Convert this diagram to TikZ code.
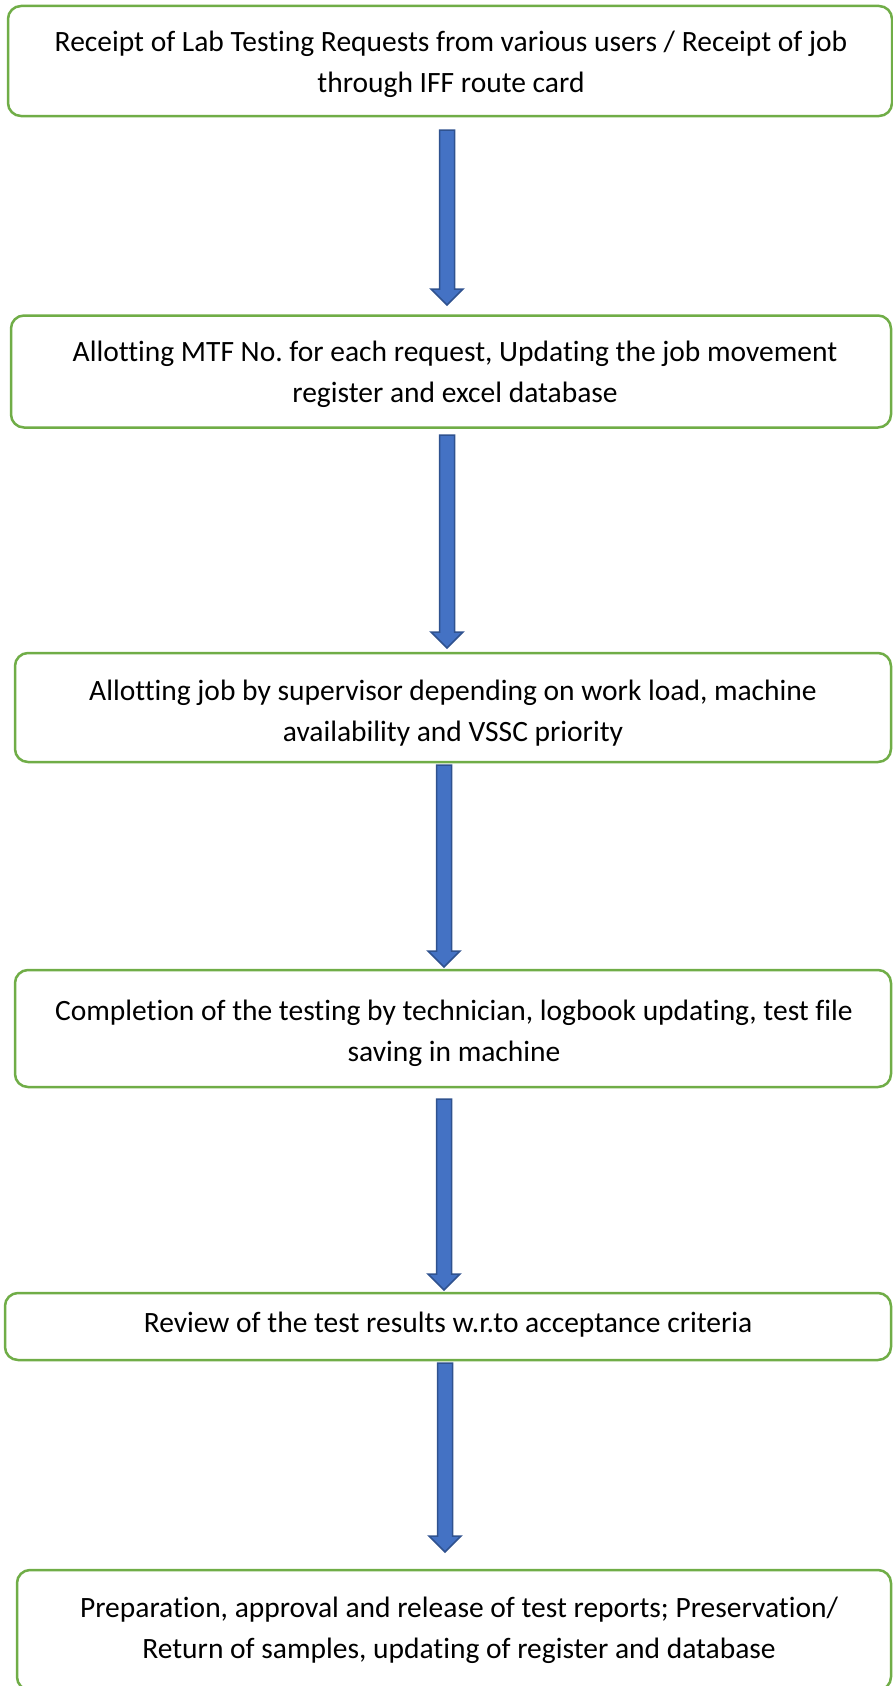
\documentclass[tikz,border=0pt]{standalone}
\usepackage{fontspec}
\setmainfont{Carlito}[Ligatures=CommonOff]
\frenchspacing
\usetikzlibrary{calc}
\definecolor{boxgreen}{HTML}{70AD47}
\definecolor{arrowfill}{HTML}{4472C4}
\definecolor{arrowedge}{HTML}{2F528F}

% block arrow pointing down from #1 to the tip at #2
\newcommand\blockarrow[2]{%
  \draw[flow] let \p1=(#1), \p2=(#2) in
    (\x1-7.5pt,\y1) -- (\x1+7.5pt,\y1) -- (\x1+7.5pt,\y2+16pt)
    -- (\x1+16pt,\y2+16pt) -- (\x1,\y2) -- (\x1-16pt,\y2+16pt)
    -- (\x1-7.5pt,\y2+16pt) -- cycle;}

\begin{document}
\begin{tikzpicture}[x=1pt,y=-1pt,
  stepbox/.style={draw=boxgreen, line width=2.5pt, rounded corners=13pt,
    fill=white, inner sep=0pt},
  steptext/.style={align=center, font=\fontsize{29.5}{41}\selectfont,
    inner sep=0pt},
  flow/.style={draw=arrowedge, line width=1.5pt, fill=arrowfill}]
\useasboundingbox (0,0) rectangle (893,1686);

% process steps
\node[stepbox, minimum width=884pt, minimum height=110pt] (b1) at (450,61) {};
\node[stepbox, minimum width=880pt, minimum height=112pt] (b2) at (451,371.5) {};
\node[stepbox, minimum width=876pt, minimum height=109pt] (b3) at (453,707.5) {};
\node[stepbox, minimum width=876pt, minimum height=117pt] (b4) at (453,1028.5) {};
\node[stepbox, minimum width=886pt, minimum height=67pt] (b5) at (448,1326.5) {};
\node[stepbox, minimum width=874pt, minimum height=120pt] (b6) at (454,1630) {};

\node[steptext] (t1) at (451,64)
  {Receipt of Lab Testing Requests from various users / Receipt of job\\through IFF route card};
\node[steptext] (t2) at (455,374)
  {Allotting MTF No. for each request, Updating the job movement\\register and excel database};
\node[steptext] (t3) at (453,713)
  {Allotting job by supervisor depending on work load, machine\\availability and VSSC priority};
\node[steptext] (t4) at (454,1033)
  {Completion of the testing by technician, logbook updating, test file\\saving in machine};
\node[steptext] (t5) at (448,1325)
  {Review of the test results w.r.to acceptance criteria};
\node[steptext] (t6) at (459,1630)
  {Preparation, approval and release of test reports; Preservation/\\Return of samples, updating of register and database};

% connectors between the steps
\coordinate (a1s) at (447,130);  \coordinate (a1e) at (447,305);
\coordinate (a2s) at (447,435);  \coordinate (a2e) at (447,648);
\coordinate (a3s) at (444,765);  \coordinate (a3e) at (444,967);
\coordinate (a4s) at (444,1099); \coordinate (a4e) at (444,1290);
\coordinate (a5s) at (445,1363); \coordinate (a5e) at (445,1552);

\blockarrow{a1s}{a1e}
\blockarrow{a2s}{a2e}
\blockarrow{a3s}{a3e}
\blockarrow{a4s}{a4e}
\blockarrow{a5s}{a5e}
\end{tikzpicture}
\end{document}
